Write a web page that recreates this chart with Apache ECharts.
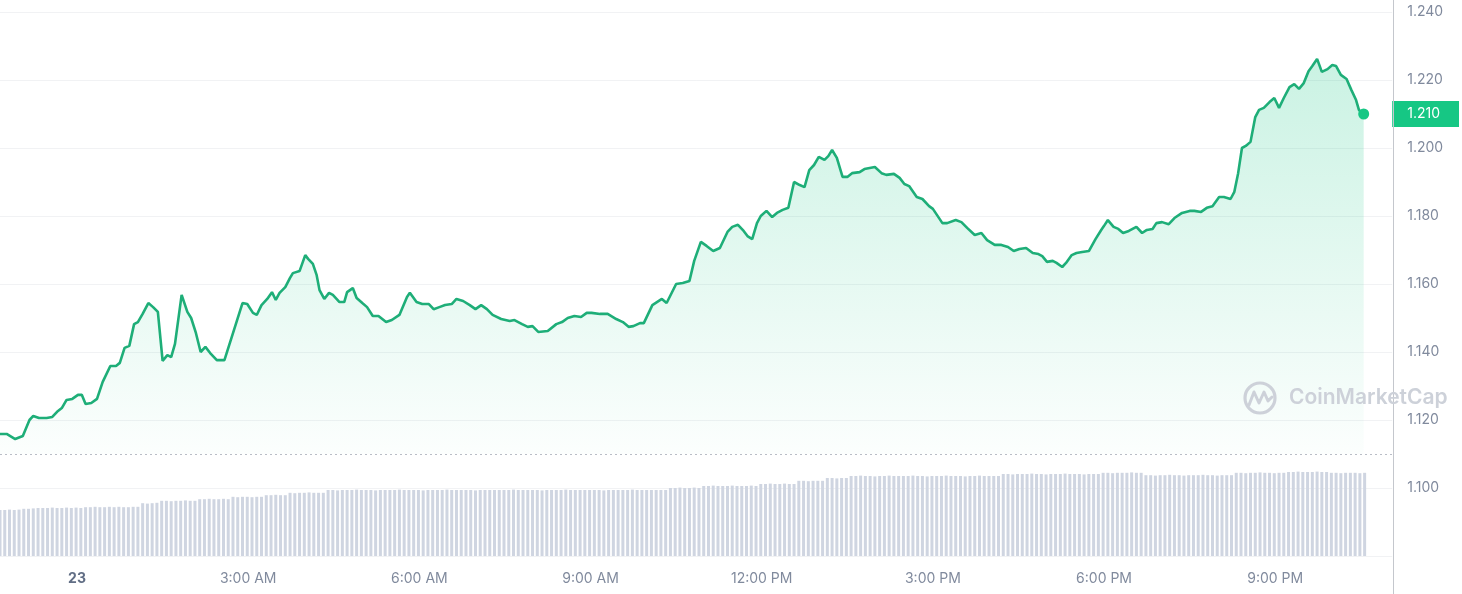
<!DOCTYPE html>
<html><head><meta charset="utf-8">
<script src="https://cdn.jsdelivr.net/npm/echarts@6.0.0/dist/echarts.min.js"></script>
<style>html,body{margin:0;padding:0;background:#fff}#c{width:1462px;height:594px}</style>
</head><body><div id="c"></div>
<script>
// minutes relative to midnight (the "23" tick)
const times = [
-81,-77,-74,-65,-57,-50,-46,-40,-32,-26,-21,-16,-11,-5,1,5,9,15,21,27,35,41,45,50,55,60,64,69,75,80,85,90,95,99,103,110,116,120,125,130,135,140,147,155,161,168,174,179,185,189,194,200,205,209,213,219,224,227,234,240,243,248,252,255,260,265,269,276,281,284,290,294,300,305,311,317,325,331,339,347,350,357,363,370,375,381,387,394,399,406,413,419,425,431,437,446,455,460,468,474,479,485,495,504,510,516,523,530,536,541,550,558,567,574,580,585,592,596,605,615,620,630,637,644,649,656,662,669,676,684,689,695,701,705,710,715,719,725,731,736,742,748,754,760,765,770,775,780,786,790,794,799,805,810,815,823,828,839,846,851,859,865,870,875,883,889,896,900,910,915,924,930,936,944,951,957,965,972,979,985,991,998,1005,1011,1015,1020,1026,1030,1036,1040,1046,1051,1057,1064,1071,1077,1080,1084,1090,1095,1100,1106,1114,1120,1125,1131,1135,1141,1148,1154,1162,1170,1175,1182,1188,1194,1201,1206,1213,1217,1221,1225,1229,1234,1239,1243,1248,1254,1259,1264,1269,1275,1280,1285,1290,1295,1299,1304,1309,1315,1320,1324,1329,1335,1340,1345,1348,1353
];
const prices = [
1.1159,1.1159,1.1159,1.1144,1.1153,1.1200,1.1212,1.1206,1.1206,1.1209,1.1224,1.1235,1.1259,1.1262,1.1274,1.1274,1.1247,1.1250,1.1262,1.1312,1.1359,1.1359,1.1368,1.1412,1.1418,1.1482,1.1488,1.1512,1.1544,1.1532,1.1518,1.1374,1.1391,1.1385,1.1424,1.1568,1.1518,1.1500,1.1456,1.1400,1.1415,1.1397,1.1376,1.1376,1.1429,1.1491,1.1544,1.1541,1.1515,1.1509,1.1538,1.1556,1.1576,1.1553,1.1574,1.1591,1.1618,1.1632,1.1638,1.1685,1.1674,1.1659,1.1626,1.1582,1.1556,1.1574,1.1568,1.1547,1.1547,1.1576,1.1588,1.1559,1.1544,1.1532,1.1506,1.1506,1.1488,1.1494,1.1509,1.1562,1.1574,1.1547,1.1541,1.1541,1.1526,1.1532,1.1538,1.1541,1.1556,1.1550,1.1538,1.1526,1.1538,1.1526,1.1509,1.1497,1.1491,1.1494,1.1482,1.1474,1.1476,1.1459,1.1462,1.1482,1.1488,1.1500,1.1506,1.1503,1.1515,1.1515,1.1512,1.1512,1.1497,1.1488,1.1474,1.1476,1.1485,1.1485,1.1538,1.1556,1.1544,1.1600,1.1603,1.1609,1.1668,1.1724,1.1712,1.1697,1.1706,1.1753,1.1768,1.1774,1.1756,1.1741,1.1732,1.1779,1.1800,1.1815,1.1797,1.1809,1.1818,1.1824,1.1900,1.1891,1.1885,1.1935,1.1950,1.1974,1.1965,1.1976,1.1994,1.1971,1.1915,1.1915,1.1926,1.1929,1.1938,1.1944,1.1926,1.1921,1.1924,1.1912,1.1894,1.1888,1.1856,1.1850,1.1829,1.1821,1.1779,1.1779,1.1788,1.1782,1.1765,1.1744,1.1750,1.1729,1.1715,1.1715,1.1709,1.1697,1.1703,1.1706,1.1691,1.1688,1.1682,1.1665,1.1668,1.1662,1.1650,1.1662,1.1685,1.1691,1.1694,1.1697,1.1732,1.1759,1.1771,1.1788,1.1768,1.1762,1.1750,1.1756,1.1768,1.1750,1.1759,1.1762,1.1779,1.1782,1.1776,1.1794,1.1809,1.1815,1.1815,1.1812,1.1824,1.1829,1.1856,1.1856,1.1850,1.1871,1.1926,1.2000,1.2006,1.2018,1.2091,1.2112,1.2118,1.2135,1.2147,1.2118,1.2147,1.2179,1.2188,1.2174,1.2191,1.2226,1.2241,1.2262,1.2224,1.2232,1.2244,1.2241,1.2215,1.2203,1.2171,1.2141,1.2112,1.2100
];
// 5-minute volume bars (millions)
const volumes = [
115,115,116,115,116,118,118,119,120,120,120,121,120,120,121,120,121,120,
122,122,123,122,122,123,122,123,122,122,123,123,132,131,132,133,
138,138,137,138,138,139,138,138,142,142,143,142,142,143,142,
148,147,148,148,147,148,148,152,152,153,152,152,158,157,158,158,159,158,158,158,
165,165,164,165,165,165,166,165,165,165,164,165,
165,165,165,166,165,165,165,165,164,165,165,165,
165,166,165,165,165,165,165,164,165,165,165,165,
165,165,165,166,165,165,165,165,165,164,165,165,
165,165,166,165,165,165,165,165,165,165,164,165,
165,165,165,165,166,165,165,165,165,165,165,165,
170,170,171,170,170,171,170,
175,175,176,175,175,175,176,175,175,175,176,175,
180,180,181,180,180,181,180,180,
188,188,187,188,188,188,
195,195,194,195,195,
200,200,201,200,200,199,200,200,201,200,200,200,200,201,200,200,
199,200,200,200,201,200,200,200,199,200,200,201,200,200,200,200,
205,205,204,205,205,205,206,205,205,204,205,205,205,206,205,205,205,204,205,205,205,
208,208,207,208,208,208,209,208,208,
202,202,201,202,202,203,202,202,201,202,202,202,203,202,202,201,202,202,202,
208,208,207,208,208,209,208,208,207,208,208,
210,210,211,210,210,210,211,210,210,
208,208,207,208,208,208,207,208
];
const volStartMinute = -81;
const volStepMinutes = 5;
const xTickValues = [0,180,360,540,720,900,1080,1260];
const xTickLabels = ['23','3:00 AM','6:00 AM','9:00 AM','12:00 PM','3:00 PM','6:00 PM','9:00 PM'];
const priceSplit = 1.11;

const chart = echarts.init(document.getElementById('c'));
const priceData = times.map((t, i) => [t, prices[i]]);
const volData = volumes.map((v, i) => [volStartMinute + i * volStepMinutes, v]);
const last = priceData[priceData.length - 1];
const font = 'Inter';

chart.setOption({
  animation: false,
  backgroundColor: '#fff',
  grid: { left: 0, right: 69, top: 12, bottom: 38 },
  xAxis: {
    type: 'value', min: -81, max: 1383,
    axisLine: { show: false }, axisTick: { show: false }, splitLine: { show: false },
    axisLabel: {
      customValues: xTickValues,
      formatter: v => { const k = xTickValues.indexOf(v); const s = k >= 0 ? xTickLabels[k] : ''; return v === 0 ? '{b|' + s + '}' : s; },
      color: '#808a9d', fontSize: 14, fontFamily: font, margin: 16,
      rich: { b: { fontWeight: 'bold', color: '#616e85', fontSize: 14, fontFamily: font } }
    }
  },
  yAxis: [
    {
      type: 'value', position: 'right', min: 1.08, max: 1.24, interval: 0.02,
      axisLine: { show: false }, axisTick: { show: false },
      splitLine: { lineStyle: { color: '#f1f2f4', width: 1 } },
      axisLabel: { showMinLabel: false, margin: 15, formatter: v => v.toFixed(3), color: '#808a9d', fontSize: 14, fontFamily: font }
    },
    { type: 'value', min: 0, max: 1360, show: false },
    {
      type: 'value', position: 'right', min: 1.08, max: 1.24,
      axisLine: { show: false }, axisTick: { show: false }, splitLine: { show: false },
      axisLabel: {
        customValues: [last[1]], formatter: v => v.toFixed(3), margin: 0,
        color: '#fff', backgroundColor: '#16c784', padding: [6, 19, 6, 15], fontSize: 14, fontFamily: font
      }
    }
  ],
  series: [
    { type: 'bar', yAxisIndex: 1, data: volData, barWidth: 3, itemStyle: { color: '#cfd5e1' }, silent: true, z: 1 },
    {
      type: 'line', yAxisIndex: 0, data: priceData, showSymbol: false, silent: true,
      lineStyle: { color: '#1eae78', width: 2.6 },
      areaStyle: {
        origin: priceSplit,
        color: new echarts.graphic.LinearGradient(0, 12, 0, 454, [
          { offset: 0, color: 'rgba(22,199,132,0.36)' },
          { offset: 1, color: 'rgba(22,199,132,0.02)' }
        ], true)
      },
      markLine: { silent: true, symbol: 'none', label: { show: false }, lineStyle: { color: '#b9bdc6', type: [2, 3], width: 1 }, data: [{ yAxis: priceSplit }] },
      z: 3
    },
    { type: 'scatter', yAxisIndex: 0, data: [last], symbolSize: 11, itemStyle: { color: '#16c784', opacity: 1 }, silent: true, z: 4 }
  ],
  graphic: [
    { type: 'line', shape: { x1: 1393.5, y1: 0, x2: 1393.5, y2: 594 }, style: { stroke: '#c4c7cd', lineWidth: 1 }, z: 10 },
    { type: 'circle', shape: { cx: 1260, cy: 398, r: 15 }, style: { fill: 'none', stroke: '#cdd1d9', lineWidth: 3.2 }, z: 10 },
    { type: 'polyline', shape: { points: [[1249, 405], [1254, 392], [1259, 403], [1264, 392], [1268, 401], [1272, 397]] }, style: { fill: 'none', stroke: '#cdd1d9', lineWidth: 3, lineJoin: 'round', lineCap: 'round' }, z: 10 },
    { type: 'text', x: 1289, y: 398, style: { text: 'CoinMarketCap', font: '600 21px Inter', fill: '#cdd1d9', verticalAlign: 'middle' }, z: 10 }
  ]
});
</script></body></html>
